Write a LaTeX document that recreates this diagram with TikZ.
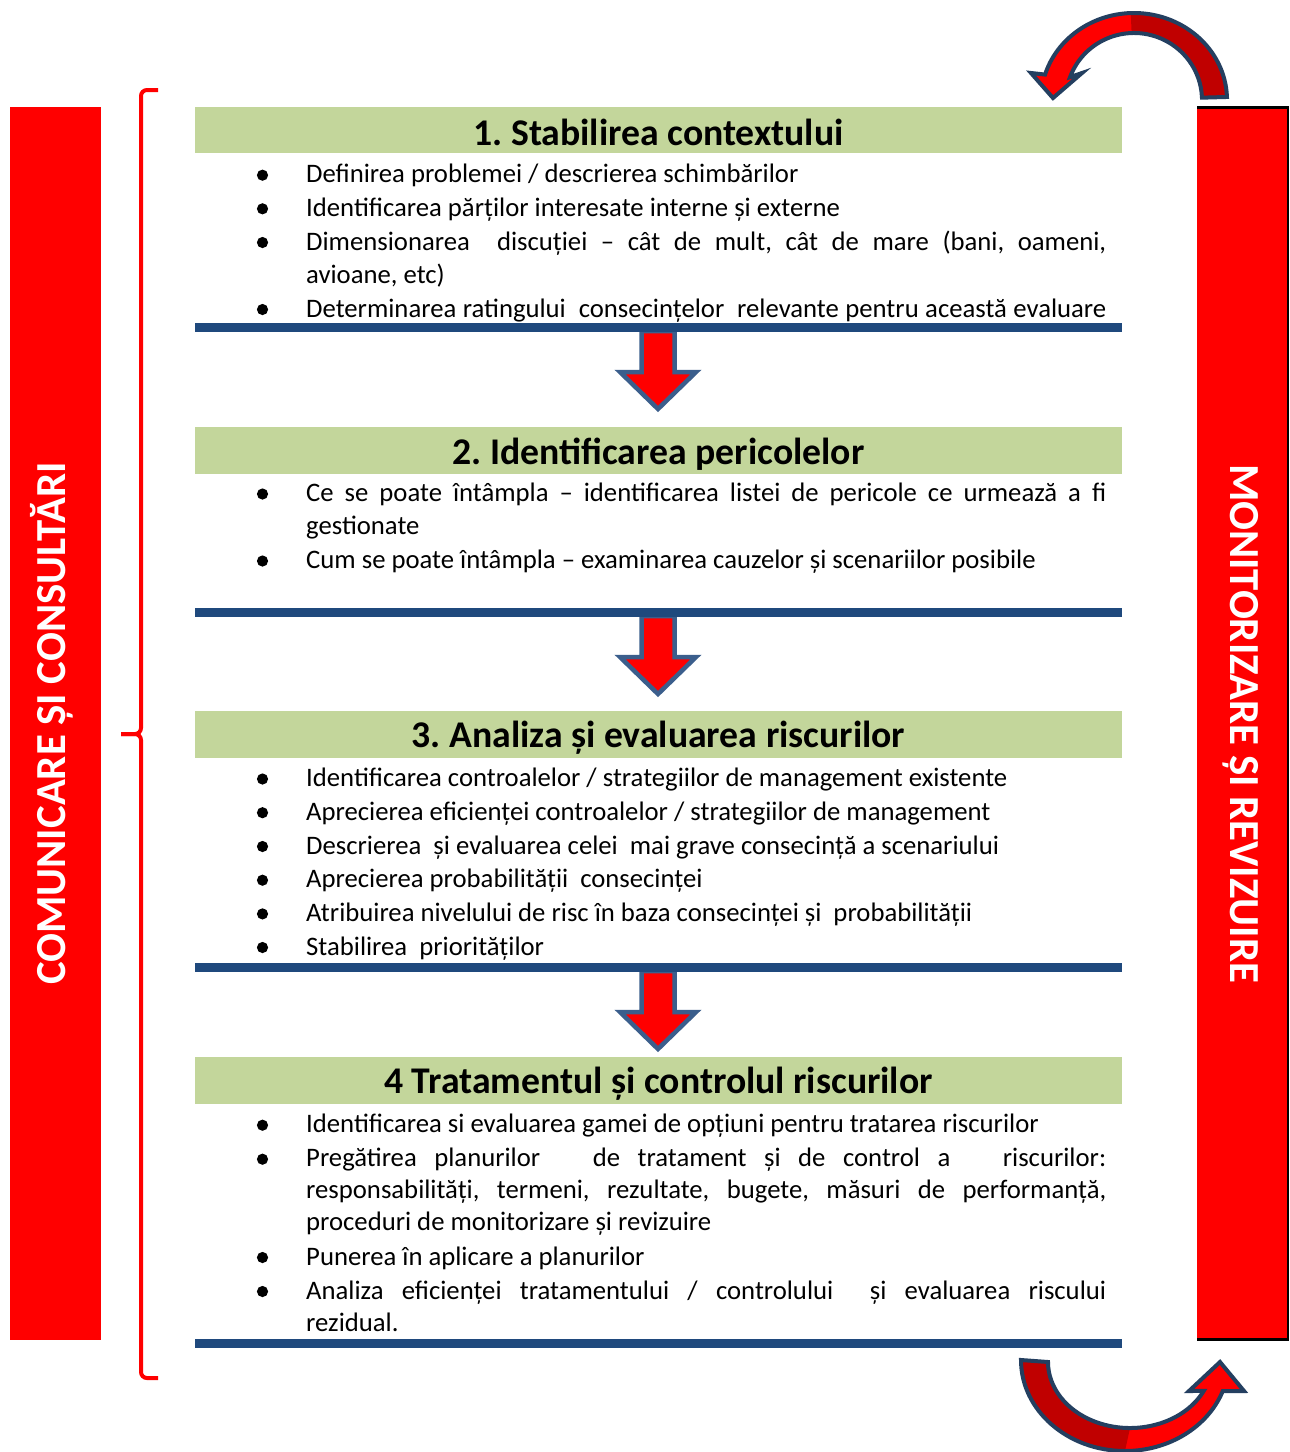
\documentclass[tikz,border=0pt]{standalone}
\usepackage{fontspec}
\setmainfont{Carlito}
\usetikzlibrary{calc}
\definecolor{hdrgreen}{HTML}{C3D69B}
\definecolor{lineblue}{HTML}{1F497D}
\definecolor{arrline}{HTML}{3B5E8C}
\definecolor{curveline}{HTML}{243F60}
\definecolor{darkred}{HTML}{C00000}
\definecolor{barred}{HTML}{FF0000}
\newcommand\JustLine[1]{\makebox[800pt][s]{#1}}
\tikzset{
  hdrtext/.style={anchor=base, inner sep=0pt, font=\fontsize{37.7}{44}\selectfont\bfseries},
  bodyline/.style={anchor=base west, inner sep=0pt, font=\fontsize{26.7}{33}\selectfont},
  sidetext/.style={anchor=base, inner sep=0pt, text=white, font=\fontsize{42.8}{50}\selectfont\bfseries},
  downarr/.style={fill=barred, draw=arrline, line width=4.5pt, line join=miter},
  bracestyle/.style={draw=barred, line width=4pt, rounded corners=6pt},
  curveout/.style={draw=curveline, line width=4pt, line join=miter},
  downarrow/.pic={
    \draw[downarr] (-16.5,0) -- (16.5,0) -- (16.5,41) -- (38,41) -- (0,78) -- (-38,41) -- (-16.5,41) -- cycle;
  }
}
\newcommand\Bul[1]{\fill (262.5,#1-7.5) circle (5.6pt);}
\begin{document}
\frenchspacing
\begin{tikzpicture}[x=1pt,y=-1pt]
\useasboundingbox (0,0) rectangle (1290,1452);
\fill[white] (0,0) rectangle (1290,1452);

% side bars
\fill[barred] (10,107) rectangle (101,1340);
\node[sidetext, rotate=90] (comm) at (65,723.5) {COMUNICARE ȘI CONSULTĂRI};
\fill[barred] (1197,107) rectangle (1288,1340);
\draw[black, line width=2.5pt] (1197,107.5) -- (1287.8,107.5) -- (1287.8,1339.5) -- (1197,1339.5);
\node[sidetext, rotate=-90] (mon) at (1230,723.5) {MONITORIZARE ȘI REVIZUIRE};

% brace
\coordinate (bt) at (158,90);
\coordinate (bm) at (121,734);
\coordinate (bb) at (158,1378);
\draw[bracestyle] (bt) -| (141,734) -- (bm);
\draw[bracestyle] (bm) -- (141,734) |- (bb);

% headers
\fill[hdrgreen] (195,107) rectangle (1122,153);
\node[hdrtext] (h1) at (658.5,145) {1. Stabilirea contextului};
\fill[hdrgreen] (195,427) rectangle (1122,474);
\node[hdrtext] (h2) at (658.5,464) {2. Identificarea pericolelor};
\fill[hdrgreen] (195,711) rectangle (1122,758);
\node[hdrtext] (h3) at (658.5,747) {3. Analiza și evaluarea riscurilor};
\fill[hdrgreen] (195,1057) rectangle (1122,1104);
\node[hdrtext] (h4) at (658.5,1093) {4 Tratamentul și controlul riscurilor};

% down arrows
\pic at (658,331) {downarrow};
\pic at (658,616) {downarrow};
\pic at (658,971) {downarrow};

% separator lines
\fill[lineblue] (195,323) rectangle (1122,332);
\fill[lineblue] (195,608) rectangle (1122,617);
\fill[lineblue] (195,963) rectangle (1122,972);
\fill[lineblue] (195,1339) rectangle (1122,1348);

% section 1 text
\Bul{182.7}\node[bodyline] (t1a) at (306,182.7) {Definirea problemei / descrierea schimbărilor};
\Bul{216.3}\node[bodyline] (t1b) at (306,216.3) {Identificarea părților interesate interne și externe};
\Bul{250}\node[bodyline] (t1c) at (306,250) {\JustLine{Dimensionarea\ \ discuției – cât de mult, cât de mare (bani, oameni,}};
\node[bodyline] (t1d) at (306,283.5) {avioane, etc)};
\Bul{317}\node[bodyline] (t1e) at (306,317) {\JustLine{Determinarea ratingului\ \ consecințelor\ \ relevante pentru această evaluare}};

% section 2 text
\Bul{501.5}\node[bodyline] (t2a) at (306,501.5) {\JustLine{Ce se poate întâmpla – identificarea listei de pericole ce urmează a fi}};
\node[bodyline] (t2b) at (306,534.5) {gestionate};
\Bul{568.5}\node[bodyline] (t2c) at (306,568.5) {Cum se poate întâmpla – examinarea cauzelor și scenariilor posibile};

% section 3 text
\Bul{786.5}\node[bodyline] (t3a) at (306,786.5) {Identificarea controalelor / strategiilor de management existente};
\Bul{820.2}\node[bodyline] (t3b) at (306,820.2) {Aprecierea eficienței controalelor / strategiilor de management};
\Bul{854}\node[bodyline] (t3c) at (306,854) {Descrierea\ \ și evaluarea celei\ \ mai grave consecință a scenariului};
\Bul{887.7}\node[bodyline] (t3d) at (306,887.7) {Aprecierea probabilității\ \ consecinței};
\Bul{921.4}\node[bodyline] (t3e) at (306,921.4) {Atribuirea nivelului de risc în baza consecinței și\ \ probabilității};
\Bul{955}\node[bodyline] (t3f) at (306,955) {Stabilirea\ \ priorităților};

% section 4 text
\Bul{1132.7}\node[bodyline] (t4a) at (306,1132.7) {Identificarea si evaluarea gamei de opțiuni pentru tratarea riscurilor};
\Bul{1166.7}\node[bodyline] (t4b) at (306,1166.7) {\JustLine{Pregătirea planurilor\ \ \ de tratament și de control a\ \ \ riscurilor:}};
\node[bodyline] (t4c) at (306,1198.5) {\JustLine{responsabilități, termeni, rezultate, bugete, măsuri de performanță,}};
\node[bodyline] (t4d) at (306,1230.5) {proceduri de monitorizare și revizuire};
\Bul{1265}\node[bodyline] (t4e) at (306,1265) {Punerea în aplicare a planurilor};
\Bul{1299}\node[bodyline] (t4f) at (306,1299) {\JustLine{Analiza eficienței tratamentului / controlului\ \ și evaluarea riscului}};
\node[bodyline] (t4g) at (306,1331) {rezidual.};

% top curved arrow
\coordinate (tc) at (1134,100);
\fill[barred] ($(tc)+(-2:93 and 87)$) arc[start angle=-2,end angle=-163,x radius=93,y radius=87]
  -- (1031,73) -- (1053,98) -- (1082,73) -- ($(tc)+(-160:68 and 67)$)
  arc[start angle=-160,end angle=-2,x radius=68,y radius=67] -- cycle;
\fill[darkred] ($(tc)+(-92:93 and 87)$) arc[start angle=-92,end angle=-2,x radius=93,y radius=87]
  -- ($(tc)+(-2:68 and 67)$) arc[start angle=-2,end angle=-92,x radius=68,y radius=67] -- cycle;
\draw[curveout] ($(tc)+(-2:93 and 87)$) arc[start angle=-2,end angle=-163,x radius=93,y radius=87]
  -- (1031,73) -- (1053,98) -- (1082,73) -- ($(tc)+(-160:68 and 67)$)
  arc[start angle=-160,end angle=-2,x radius=68,y radius=67] -- cycle;

% bottom curved arrow
\coordinate (bc) at (1125,1360);
\coordinate (bi) at (1130,1362);
\fill[barred] ($(bc)+(180:104 and 91)$) arc[start angle=180,end angle=20,x radius=104,y radius=91]
  -- (1244,1391) -- (1220,1362) -- (1189,1391) -- ($(bi)+(26:82 and 66)$)
  arc[start angle=26,end angle=180,x radius=82,y radius=66] -- cycle;
\fill[darkred] ($(bc)+(180:104 and 91)$) arc[start angle=180,end angle=90,x radius=104,y radius=91]
  -- ($(bi)+(90:82 and 66)$) arc[start angle=90,end angle=180,x radius=82,y radius=66] -- cycle;
\draw[curveout] ($(bc)+(180:104 and 91)$) arc[start angle=180,end angle=20,x radius=104,y radius=91]
  -- (1244,1391) -- (1220,1362) -- (1189,1391) -- ($(bi)+(26:82 and 66)$)
  arc[start angle=26,end angle=180,x radius=82,y radius=66] -- cycle;
\end{tikzpicture}
\end{document}
